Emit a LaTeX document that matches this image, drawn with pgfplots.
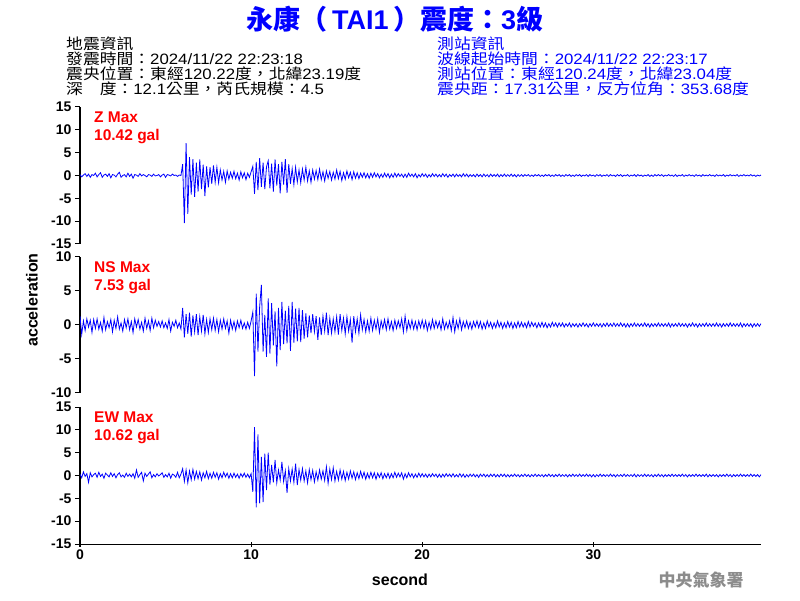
\documentclass[border=0pt]{standalone}
\usepackage{fontspec}
\setmainfont{Liberation Sans}
\newfontfamily\cjk{Noto Sans CJK TC}
\newfontfamily\hcjk[FakeStretch=1.12]{Noto Sans CJK TC}
\newfontfamily\hlat[FakeStretch=1.12]{Liberation Sans}
\usepackage{pgfplots}
\pgfplotsset{compat=1.18}
\pgfplotsset{
  seis/.style={scale only axis, width=681pt, xmin=0, xmax=39.8,
    axis y line=left,
    tick align=outside, major tick length=5pt,
    tick style={black, line width=1pt},
    ticklabel style={font=\fontsize{14}{14}\selectfont\bfseries},
    /pgf/number format/assume math mode=true},
  tr/.style={color=blue, line width=0.8pt, mark=none}
}
\begin{document}
\begin{tikzpicture}
\path[use as bounding box] (0,0) rectangle (800pt,600pt);
% ---------- Z ----------
\begin{axis}[seis, at={(80pt,356pt)}, anchor=south west, height=137pt,
  ymin=-15, ymax=15, ytick={-15,-10,-5,0,5,10,15}, axis x line=none,
  axis line style={-, line width=1pt, black}]
\addplot[tr] table[row sep=\\, header=false, x expr=\coordindex*0.1, y index=0] {
0.2\\ -0.3\\ 0.1\\ 0.4\\ -0.2\\ 0.3\\ -0.4\\ 0.2\\ 0.0\\ 0.5\\
-0.3\\ 0.2\\ 0.6\\ -0.4\\ 0.1\\ 0.3\\ -0.2\\ 0.4\\ -0.5\\ 0.2\\
0.1\\ -0.3\\ 0.3\\ 0.7\\ -0.4\\ 0.0\\ 0.2\\ -0.3\\ 0.5\\ -0.2\\
0.3\\ -0.6\\ 0.2\\ 0.1\\ -0.2\\ 0.4\\ -0.1\\ 0.2\\ 0.0\\ -0.3\\
0.2\\ 0.1\\ -0.2\\ 0.3\\ -0.1\\ 0.0\\ 0.2\\ -0.3\\ 0.1\\ 0.3\\
-0.4\\ 0.2\\ 0.1\\ -0.1\\ 0.3\\ 0.0\\ 0.1\\ -0.2\\ 0.1\\ 0.0\\
2.5\\ -10.4\\ 7.1\\ -8.4\\ 4.0\\ -4.2\\ 3.6\\ -4.7\\ 2.8\\ -3.5\\
3.5\\ -3.0\\ 2.4\\ -4.5\\ 2.0\\ -2.6\\ 1.8\\ -1.8\\ 2.2\\ -1.5\\
1.8\\ -1.6\\ 1.2\\ -1.0\\ 0.9\\ -1.5\\ 1.0\\ -0.8\\ 0.7\\ -0.6\\
0.9\\ -0.7\\ 0.5\\ -1.0\\ 0.8\\ -0.5\\ 0.6\\ -0.9\\ 0.5\\ -0.4\\
0.8\\ 2.0\\ -4.0\\ 3.0\\ -3.2\\ 3.8\\ -2.5\\ 2.8\\ -3.0\\ 1.9\\
3.2\\ -2.8\\ 2.6\\ -3.5\\ 3.5\\ -2.2\\ 2.5\\ -3.9\\ 3.0\\ -2.0\\
3.6\\ -3.8\\ 2.5\\ -1.8\\ 1.5\\ -2.0\\ 1.8\\ -1.4\\ 1.2\\ -1.6\\
1.4\\ -1.0\\ 1.8\\ -1.2\\ 1.0\\ -1.5\\ 1.2\\ -0.8\\ 1.1\\ -0.9\\
1.4\\ -0.9\\ 0.8\\ -1.2\\ 1.0\\ -0.6\\ 0.9\\ -1.0\\ 0.7\\ -0.8\\
1.2\\ -0.7\\ 0.9\\ -1.1\\ 0.6\\ -0.8\\ 1.0\\ -0.5\\ 0.7\\ -0.9\\
0.8\\ -0.6\\ 0.6\\ -0.7\\ 0.5\\ -0.4\\ 0.6\\ -0.5\\ 0.4\\ -0.6\\
0.5\\ -0.4\\ 0.6\\ -0.3\\ 0.4\\ -0.5\\ 0.3\\ -0.4\\ 0.5\\ -0.3\\
0.4\\ -0.5\\ 0.3\\ -0.4\\ 0.5\\ -0.3\\ 0.4\\ -0.2\\ 0.3\\ -0.4\\
0.3\\ -0.4\\ 0.5\\ -0.2\\ 0.3\\ -0.3\\ 0.4\\ -0.5\\ 0.2\\ -0.3\\
0.4\\ -0.2\\ 0.3\\ -0.4\\ 0.2\\ -0.3\\ 0.4\\ -0.2\\ 0.3\\ -0.3\\
0.2\\ -0.3\\ 0.4\\ -0.2\\ 0.3\\ -0.4\\ 0.2\\ -0.2\\ 0.3\\ -0.3\\
0.3\\ -0.2\\ 0.2\\ -0.3\\ 0.4\\ -0.2\\ 0.3\\ -0.3\\ 0.2\\ -0.2\\
0.2\\ -0.3\\ 0.3\\ -0.2\\ 0.2\\ -0.3\\ 0.3\\ -0.2\\ 0.2\\ -0.3\\
0.3\\ -0.2\\ 0.2\\ -0.2\\ 0.3\\ -0.3\\ 0.2\\ -0.2\\ 0.3\\ -0.2\\
0.2\\ -0.2\\ 0.3\\ -0.2\\ 0.2\\ -0.3\\ 0.2\\ -0.2\\ 0.2\\ -0.2\\
0.2\\ -0.1\\ 0.2\\ -0.2\\ 0.1\\ -0.2\\ 0.2\\ -0.1\\ 0.2\\ -0.2\\
0.1\\ -0.2\\ 0.2\\ -0.1\\ 0.2\\ -0.2\\ 0.1\\ -0.2\\ 0.2\\ -0.1\\
0.2\\ -0.2\\ 0.1\\ -0.2\\ 0.2\\ -0.1\\ 0.2\\ -0.2\\ 0.1\\ -0.2\\
0.2\\ -0.1\\ 0.2\\ -0.2\\ 0.1\\ -0.1\\ 0.2\\ -0.2\\ 0.2\\ -0.1\\
0.1\\ -0.2\\ 0.2\\ -0.1\\ 0.2\\ -0.2\\ 0.1\\ -0.1\\ 0.2\\ -0.2\\
0.2\\ -0.1\\ 0.1\\ -0.2\\ 0.2\\ -0.1\\ 0.2\\ -0.2\\ 0.1\\ -0.1\\
0.2\\ -0.2\\ 0.1\\ -0.1\\ 0.2\\ -0.2\\ 0.2\\ -0.1\\ 0.1\\ -0.2\\
0.1\\ -0.1\\ 0.2\\ -0.2\\ 0.1\\ -0.2\\ 0.2\\ -0.1\\ 0.2\\ -0.1\\
0.2\\ -0.2\\ 0.1\\ -0.1\\ 0.2\\ -0.1\\ 0.1\\ -0.2\\ 0.2\\ -0.2\\
0.1\\ -0.1\\ 0.2\\ -0.2\\ 0.1\\ -0.1\\ 0.2\\ -0.1\\ 0.1\\ -0.2\\
0.2\\ -0.1\\ 0.1\\ -0.2\\ 0.2\\ -0.1\\ 0.1\\ -0.1\\ 0.2\\ -0.1\\
0.1\\ -0.2\\ 0.2\\ -0.1\\ 0.1\\ -0.1\\ 0.2\\ -0.2\\ 0.1\\ -0.1\\
0.2\\ -0.1\\ 0.1\\ -0.1\\ 0.2\\ -0.2\\ 0.1\\ -0.1\\ 0.2\\ -0.1\\
0.1\\ -0.1\\ 0.2\\ -0.1\\ 0.1\\ -0.2\\ 0.1\\ -0.1\\ 0.1\\
};
\end{axis}
% ---------- NS ----------
\begin{axis}[seis, at={(80pt,207pt)}, anchor=south west, height=136pt,
  ymin=-10, ymax=10, ytick={-10,-5,0,5,10}, axis x line=none,
  axis line style={-, line width=1pt, black}]
\addplot[tr] table[row sep=\\, header=false, x expr=\coordindex*0.1, y index=0] {
1.3\\ -1.4\\ 0.6\\ -0.8\\ 0.9\\ -0.3\\ 0.7\\ -1.1\\ 0.8\\ -0.5\\
0.9\\ -0.6\\ 0.4\\ -0.9\\ 1.1\\ -0.7\\ 0.5\\ -0.4\\ 0.8\\ -1.0\\
0.7\\ -0.5\\ 1.2\\ -0.6\\ 0.3\\ -0.9\\ 0.8\\ -0.4\\ 0.9\\ -0.7\\
0.5\\ -1.1\\ 0.9\\ -0.3\\ 0.8\\ -0.6\\ 0.4\\ -0.9\\ 1.0\\ -0.5\\
0.6\\ -0.8\\ 1.0\\ -0.4\\ 0.7\\ -0.2\\ 0.5\\ -0.3\\ 0.6\\ -0.4\\
0.3\\ -0.5\\ 0.8\\ -0.9\\ 0.4\\ -0.2\\ 0.7\\ -0.4\\ 0.3\\ -0.6\\
2.5\\ -1.8\\ 1.6\\ -1.3\\ 1.8\\ -1.7\\ 1.4\\ -1.0\\ 1.6\\ -1.5\\
1.2\\ -0.9\\ 1.5\\ -1.3\\ 0.8\\ -1.1\\ 0.9\\ -0.7\\ 1.0\\ -0.8\\
0.8\\ -1.0\\ 0.7\\ -0.6\\ 0.9\\ -0.5\\ 0.6\\ -1.2\\ 0.7\\ -0.6\\
0.5\\ -0.8\\ 0.6\\ -0.4\\ 0.7\\ -0.5\\ 0.3\\ -0.6\\ 0.4\\ -0.5\\
0.6\\ 1.9\\ -7.5\\ 4.6\\ -3.9\\ 2.7\\ 5.9\\ -3.9\\ 1.5\\ -4.7\\
3.9\\ -4.2\\ 3.2\\ -3.0\\ 2.0\\ -6.1\\ 2.5\\ -3.7\\ 3.4\\ -2.8\\
2.1\\ -2.7\\ 2.8\\ -3.8\\ 3.4\\ -2.6\\ 2.4\\ -2.4\\ 2.5\\ -2.5\\
2.2\\ -2.0\\ 1.7\\ -1.8\\ 1.4\\ -1.2\\ 1.6\\ -1.0\\ 1.3\\ -2.2\\
1.1\\ -1.5\\ 1.3\\ -0.9\\ 1.8\\ -1.5\\ 1.0\\ -1.2\\ 0.9\\ -1.0\\
1.2\\ -1.4\\ 1.6\\ -0.8\\ 1.0\\ -1.3\\ 1.2\\ -0.9\\ 0.8\\ -2.6\\
1.3\\ -1.0\\ 0.9\\ -1.2\\ 1.5\\ -0.7\\ 0.8\\ -1.0\\ 0.6\\ -0.9\\
1.0\\ -0.8\\ 0.7\\ -0.6\\ 0.9\\ -1.1\\ 0.6\\ -0.5\\ 0.8\\ -0.7\\
0.9\\ -0.6\\ 0.5\\ -0.8\\ 0.7\\ -0.5\\ 0.6\\ -0.4\\ 0.9\\ -1.0\\
1.3\\ -0.8\\ 0.6\\ -0.5\\ 0.7\\ -0.6\\ 0.5\\ -0.7\\ 0.6\\ -0.4\\
0.7\\ -0.5\\ 0.6\\ -0.8\\ 0.4\\ -0.6\\ 0.8\\ -0.5\\ 0.6\\ -0.4\\
0.5\\ -0.7\\ 0.9\\ -0.6\\ 0.4\\ -0.5\\ 0.6\\ -0.8\\ 1.1\\ -1.0\\
0.6\\ -0.5\\ 0.9\\ -0.7\\ 0.5\\ -0.4\\ 0.6\\ -0.5\\ 0.4\\ -0.6\\
0.5\\ -0.3\\ 0.6\\ -0.4\\ 0.5\\ -0.6\\ 0.3\\ -0.5\\ 0.6\\ -0.3\\
0.4\\ -0.5\\ 0.3\\ -0.4\\ 0.6\\ -0.3\\ 0.4\\ -0.5\\ 0.3\\ -0.4\\
0.5\\ -0.3\\ 0.4\\ -0.5\\ 0.3\\ -0.4\\ 0.5\\ -0.3\\ 0.4\\ -0.3\\
0.3\\ -0.4\\ 0.5\\ -0.3\\ 0.4\\ -0.2\\ 0.3\\ -0.4\\ 0.3\\ -0.3\\
0.4\\ -0.3\\ 0.3\\ -0.4\\ 0.2\\ -0.3\\ 0.4\\ -0.2\\ 0.3\\ -0.3\\
0.3\\ -0.2\\ 0.3\\ -0.3\\ 0.2\\ -0.2\\ 0.3\\ -0.3\\ 0.2\\ -0.2\\
0.2\\ -0.3\\ 0.2\\ -0.2\\ 0.3\\ -0.2\\ 0.2\\ -0.3\\ 0.2\\ -0.2\\
0.3\\ -0.2\\ 0.2\\ -0.2\\ 0.2\\ -0.3\\ 0.2\\ -0.2\\ 0.3\\ -0.2\\
0.2\\ -0.2\\ 0.3\\ -0.2\\ 0.2\\ -0.2\\ 0.3\\ -0.2\\ 0.2\\ -0.3\\
0.2\\ -0.3\\ 0.2\\ -0.2\\ 0.3\\ -0.2\\ 0.2\\ -0.2\\ 0.2\\ -0.2\\
0.3\\ -0.2\\ 0.2\\ -0.3\\ 0.2\\ -0.2\\ 0.2\\ -0.2\\ 0.3\\ -0.2\\
0.2\\ -0.2\\ 0.2\\ -0.2\\ 0.3\\ -0.3\\ 0.2\\ -0.2\\ 0.2\\ -0.2\\
0.3\\ -0.2\\ 0.2\\ -0.2\\ 0.2\\ -0.3\\ 0.2\\ -0.2\\ 0.3\\ -0.2\\
0.2\\ -0.3\\ 0.2\\ -0.2\\ 0.2\\ -0.2\\ 0.3\\ -0.2\\ 0.2\\ -0.2\\
0.2\\ -0.2\\ 0.3\\ -0.2\\ 0.2\\ -0.3\\ 0.2\\ -0.2\\ 0.2\\ -0.2\\
0.3\\ -0.2\\ 0.2\\ -0.2\\ 0.2\\ -0.2\\ 0.3\\ -0.3\\ 0.2\\ -0.2\\
0.2\\ -0.2\\ 0.2\\ -0.3\\ 0.2\\ -0.2\\ 0.2\\ -0.2\\ 0.2\\
};
\end{axis}
% ---------- EW ----------
\begin{axis}[seis, at={(80pt,56pt)}, anchor=south west, height=137pt,
  ymin=-15, ymax=15, ytick={-15,-10,-5,0,5,10,15},
  axis x line=bottom, xtick={0,10,20,30},
  axis line style={-, line width=1pt, black},
  x axis line style={-}, y axis line style={-}]
\addplot[tr] table[row sep=\\, header=false, x expr=\coordindex*0.1, y index=0] {
0.3\\ -0.5\\ 0.8\\ -0.2\\ 0.4\\ -1.5\\ 0.6\\ -0.3\\ 0.2\\ 0.5\\
-0.4\\ 0.7\\ -0.2\\ 0.3\\ -0.6\\ 0.5\\ 0.1\\ -0.3\\ 0.6\\ -0.2\\
0.4\\ -0.5\\ 0.2\\ 0.6\\ -0.3\\ 0.1\\ -0.4\\ 0.5\\ -0.2\\ 0.3\\
-0.3\\ 0.4\\ -0.6\\ 1.2\\ -0.4\\ 0.2\\ 0.7\\ -1.2\\ 0.5\\ -0.2\\
0.3\\ 0.8\\ -0.5\\ 0.2\\ -0.3\\ 0.4\\ -0.1\\ 0.2\\ 0.6\\ -0.4\\
0.2\\ -0.3\\ 0.5\\ -0.6\\ 0.3\\ 0.1\\ -0.4\\ 0.7\\ -0.5\\ 0.3\\
1.5\\ -1.3\\ 1.2\\ -1.6\\ 1.0\\ -0.9\\ 1.3\\ -0.8\\ 0.9\\ -0.7\\
0.8\\ -1.0\\ 0.6\\ -0.5\\ 0.9\\ -0.7\\ 0.5\\ -0.6\\ 0.7\\ -0.4\\
0.6\\ -0.8\\ 0.4\\ -0.5\\ 0.7\\ -0.3\\ 0.5\\ -0.6\\ 0.4\\ -0.5\\
0.5\\ -0.4\\ 0.3\\ -0.6\\ 0.4\\ -0.3\\ 0.5\\ -0.4\\ 0.3\\ -0.5\\
0.4\\ -3.6\\ 10.6\\ -7.0\\ 9.0\\ -6.1\\ 4.1\\ -5.8\\ 4.8\\ -3.2\\
5.0\\ -2.0\\ 2.3\\ -1.5\\ 3.4\\ -1.6\\ 1.2\\ -1.0\\ 3.0\\ -1.3\\
1.0\\ -3.8\\ 1.5\\ -1.2\\ 1.4\\ -1.5\\ 2.6\\ -2.1\\ 1.3\\ -1.0\\
1.5\\ -1.2\\ 1.0\\ -1.6\\ 1.3\\ -0.9\\ 1.1\\ -1.4\\ 0.8\\ -1.0\\
1.2\\ -0.8\\ 1.0\\ -1.1\\ 1.9\\ -1.7\\ 1.4\\ -0.9\\ 1.7\\ -1.2\\
0.9\\ -1.0\\ 1.2\\ -0.8\\ 0.9\\ -1.1\\ 0.7\\ -0.8\\ 1.0\\ -0.6\\
0.8\\ -0.9\\ 0.6\\ -0.7\\ 0.9\\ -0.5\\ 0.7\\ -0.8\\ 0.5\\ -0.6\\
0.7\\ -0.5\\ 0.6\\ -0.8\\ 0.5\\ -0.4\\ 0.6\\ -0.7\\ 0.4\\ -0.5\\
0.5\\ -0.6\\ 0.4\\ -0.5\\ 0.7\\ -0.4\\ 0.5\\ -0.3\\ 0.6\\ -0.8\\
0.4\\ -0.5\\ 0.6\\ -0.3\\ 0.4\\ -0.5\\ 0.3\\ -0.4\\ 0.5\\ -0.3\\
0.4\\ -0.3\\ 0.3\\ -0.4\\ 0.3\\ -0.3\\ 0.4\\ -0.2\\ 0.3\\ -0.4\\
0.3\\ -0.4\\ 0.3\\ -0.3\\ 0.4\\ -0.2\\ 0.3\\ -0.3\\ 0.4\\ -0.3\\
0.2\\ -0.3\\ 0.4\\ -0.3\\ 0.3\\ -0.4\\ 0.2\\ -0.3\\ 0.3\\ -0.2\\
0.3\\ -0.3\\ 0.2\\ -0.4\\ 0.3\\ -0.2\\ 0.3\\ -0.3\\ 0.2\\ -0.3\\
0.3\\ -0.2\\ 0.3\\ -0.3\\ 0.2\\ -0.3\\ 0.3\\ -0.2\\ 0.3\\ -0.3\\
0.2\\ -0.3\\ 0.2\\ -0.2\\ 0.3\\ -0.2\\ 0.2\\ -0.3\\ 0.2\\ -0.2\\
0.3\\ -0.2\\ 0.2\\ -0.3\\ 0.2\\ -0.2\\ 0.3\\ -0.2\\ 0.2\\ -0.2\\
0.2\\ -0.3\\ 0.2\\ -0.2\\ 0.3\\ -0.2\\ 0.2\\ -0.3\\ 0.2\\ -0.2\\
0.3\\ -0.2\\ 0.2\\ -0.2\\ 0.2\\ -0.3\\ 0.2\\ -0.2\\ 0.3\\ -0.2\\
0.2\\ -0.2\\ 0.3\\ -0.2\\ 0.2\\ -0.2\\ 0.3\\ -0.2\\ 0.2\\ -0.3\\
0.2\\ -0.3\\ 0.2\\ -0.2\\ 0.3\\ -0.2\\ 0.2\\ -0.2\\ 0.2\\ -0.2\\
0.3\\ -0.2\\ 0.2\\ -0.3\\ 0.2\\ -0.2\\ 0.2\\ -0.2\\ 0.3\\ -0.2\\
0.2\\ -0.2\\ 0.2\\ -0.2\\ 0.3\\ -0.3\\ 0.2\\ -0.2\\ 0.2\\ -0.2\\
0.3\\ -0.2\\ 0.2\\ -0.2\\ 0.2\\ -0.3\\ 0.2\\ -0.2\\ 0.3\\ -0.2\\
0.2\\ -0.3\\ 0.2\\ -0.2\\ 0.2\\ -0.2\\ 0.3\\ -0.2\\ 0.2\\ -0.2\\
0.2\\ -0.2\\ 0.3\\ -0.2\\ 0.2\\ -0.3\\ 0.2\\ -0.2\\ 0.2\\ -0.2\\
0.3\\ -0.2\\ 0.2\\ -0.2\\ 0.2\\ -0.2\\ 0.3\\ -0.3\\ 0.2\\ -0.2\\
0.2\\ -0.2\\ 0.2\\ -0.3\\ 0.2\\ -0.2\\ 0.2\\ -0.2\\ 0.3\\ -0.2\\
0.2\\ -0.3\\ 0.2\\ -0.2\\ 0.2\\ -0.2\\ 0.3\\ -0.2\\ 0.2\\ -0.2\\
0.2\\ -0.2\\ 0.3\\ -0.2\\ 0.2\\ -0.2\\ 0.2\\ -0.3\\ 0.2\\
};
\end{axis}
% ---------- texts ----------
\node[text=blue, font=\fontsize{27}{27}\selectfont\bfseries] at (395pt,581pt)
  {{\cjk 永康（}\,TAI1\,{\cjk ）震度：}3{\cjk 級}};
\begin{scope}[every node/.style={anchor=west, inner sep=0pt, font=\fontsize{15}{15}\selectfont\hlat}]
\node at (66pt,556pt) {{\hcjk 地震資訊}};
\node at (66pt,541pt) {{\hcjk 發震時間：}2024/11/22 22:23:18};
\node at (66pt,526pt) {{\hcjk 震央位置：東經}120.22{\hcjk 度，北緯}23.19{\hcjk 度}};
\node at (66pt,511pt) {{\hcjk 深　度：}12.1{\hcjk 公里，芮氏規模：}4.5};
\node[text=blue] at (437pt,556pt) {{\hcjk 測站資訊}};
\node[text=blue] at (437pt,541pt) {{\hcjk 波線起始時間：}2024/11/22 22:23:17};
\node[text=blue] at (437pt,526pt) {{\hcjk 測站位置：東經}120.24{\hcjk 度，北緯}23.04{\hcjk 度}};
\node[text=blue] at (437pt,511pt) {{\hcjk 震央距：}17.31{\hcjk 公里，反方位角：}353.68{\hcjk 度}};
\end{scope}
\begin{scope}[every node/.style={anchor=west, inner sep=0pt, text=red, font=\fontsize{15.5}{15.5}\selectfont\bfseries}]
\node at (94pt,483pt) {Z Max};
\node at (94pt,463pt) {10.42 gal};
\node at (94pt,333pt) {NS Max};
\node at (94pt,313pt) {7.53 gal};
\node at (94pt,183pt) {EW Max};
\node at (94pt,163pt) {10.62 gal};
\end{scope}
\node[rotate=90, font=\fontsize{16}{16}\selectfont\bfseries] at (32pt,300pt) {acceleration};
\node[font=\fontsize{16}{16}\selectfont\bfseries] at (400pt,20pt) {second};
\node[text=black!45, font=\fontsize{17}{17}\selectfont\bfseries] at (701pt,20pt) {{\cjk 中央氣象署}};
\end{tikzpicture}
\end{document}
